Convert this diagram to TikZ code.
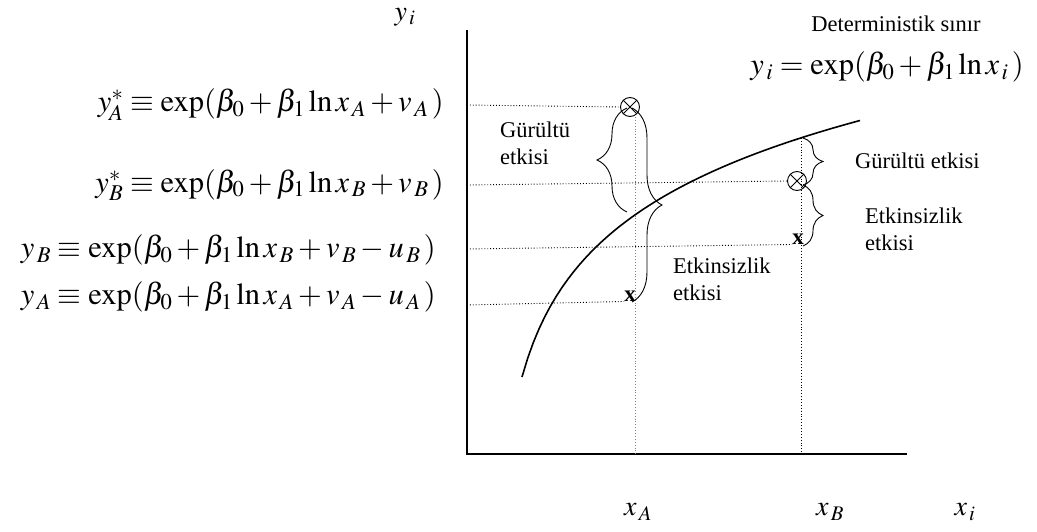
\documentclass[tikz,border=0pt]{standalone}
\usepackage{mathptmx}
\usepackage{fontspec}
\setmainfont{Liberation Serif}
\usetikzlibrary{decorations.pathreplacing}
\tikzset{
  axis/.style={line width=1.4pt},
  guide/.style={dotted, line width=0.9pt},
  bracedeco/.style={decorate, decoration={brace, amplitude=#1}, line width=0.9pt},
  lbl/.style={font=\fontsize{22.5}{27}\selectfont, align=left, anchor=west, inner sep=0pt},
  axlbl/.style={font=\fontsize{28}{32}\selectfont, inner sep=0pt},
  eqn/.style={font=\fontsize{30.5}{34}\selectfont, anchor=east, inner sep=0pt},
  otimes/.style={circle, draw, line width=0.9pt, minimum size=19pt, inner sep=0pt},
  xmark/.style={font=\fontsize{23}{26}\selectfont\bfseries, inner sep=0pt}
}
\begin{document}
\begin{tikzpicture}[x=1pt,y=-1pt]
\useasboundingbox (0,0) rectangle (1037,532);
% axes
\coordinate (O) at (467,454);
\coordinate (Ytop) at (467,30);
\coordinate (Xend) at (907,454);
\draw[axis] (Ytop) -- (O) -- (Xend);
% axis labels
\node[axlbl] (yi) at (405,17) {$y_{\,i}$};
\node[axlbl] (xA) at (638,512) {$x_{\,A}$};
\node[axlbl] (xB) at (830,512) {$x_{\,B}$};
\node[axlbl] (xi) at (965,512) {$x_{\,i}$};
% frontier curve
\draw[line width=1.6pt] plot[domain=522:860, samples=60] (\x, {377-98.5*ln((\x-495)/27)});
% points
\node[otimes] (oA) at (630,107) {};
\draw[line width=0.8pt] (oA.north west) -- (oA.south east) (oA.north east) -- (oA.south west);
\node[otimes] (oB) at (797,181) {};
\draw[line width=0.8pt] (oB.north west) -- (oB.south east) (oB.north east) -- (oB.south west);
\node[xmark] (pA) at (630,296) {x};
\node[xmark] (pB) at (798,239) {x};
% guide lines
\coordinate (hA1) at (467,105);
\coordinate (hB1) at (467,185);
\coordinate (hB2) at (467,249);
\coordinate (hA2) at (467,305);
\coordinate (vAb) at (635,454);
\coordinate (vBt) at (801,138);
\coordinate (vBb) at (801,454);
\draw[guide] (hA1) -- (oA.west);
\draw[guide] (hB1) -- (oB.west);
\draw[guide] (hB2) -- (pB.south west);
\draw[guide] (hA2) -- (pA.south west);
\draw[guide, gray] (oA.south) ++(5,0) coordinate (vAt) (vAt) -- (vAb);
\draw[guide] (vBt) -- (vBb);
% braces A
\coordinate (bAl1) at (627,212);
\coordinate (bAl2) at (627,108);
\draw[bracedeco=30] (bAl1) -- (bAl2);
\coordinate (bAr1) at (632,108);
\coordinate (bAr2) at (632,302);
\draw[bracedeco=30] (bAr1) -- (bAr2);
% braces B
\coordinate (bB1) at (803,138);
\coordinate (bB2) at (803,185);
\coordinate (bB3) at (803,246);
\draw[bracedeco=20] (bB1) -- (bB2);
\draw[bracedeco=20] (bB2) -- (bB3);
% labels
\node[lbl] (gA) at (500,143) {Gürültü\\etkisi};
\node[lbl] (eA) at (673,279) {Etkinsizlik\\etkisi};
\node[lbl] (gB) at (855,161) {Gürültü etkisi};
\node[lbl] (eB) at (865,229) {Etkinsizlik\\etkisi};
\node[lbl, anchor=center] (det) at (896,24) {Deterministik sınır};
\node[eqn, anchor=center] (fr) at (887,67) {$y_{\,i} = \exp(\beta_0 + \beta_1 \ln x_{\,i}\,)$};
% equations
\node[eqn] (eq1) at (444,105) {$y_{\!A}^{*} \equiv \exp(\beta_0 + \beta_1 \ln x_{\,A} + v_{\,A}\,)$};
\node[eqn] (eq2) at (444,185) {$y_{B}^{*} \equiv \exp(\beta_0 + \beta_1 \ln x_{\,B} + v_{\,B}\,)$};
\node[eqn] (eq3) at (436,250) {$y_{\,B} \equiv \exp(\beta_0 + \beta_1 \ln x_{\,B} + v_{\,B} - u_{\,B}\,)$};
\node[eqn] (eq4) at (436,297) {$y_{\,A} \equiv \exp(\beta_0 + \beta_1 \ln x_{\,A} + v_{\,A} - u_{\,A}\,)$};
\end{tikzpicture}
\end{document}
